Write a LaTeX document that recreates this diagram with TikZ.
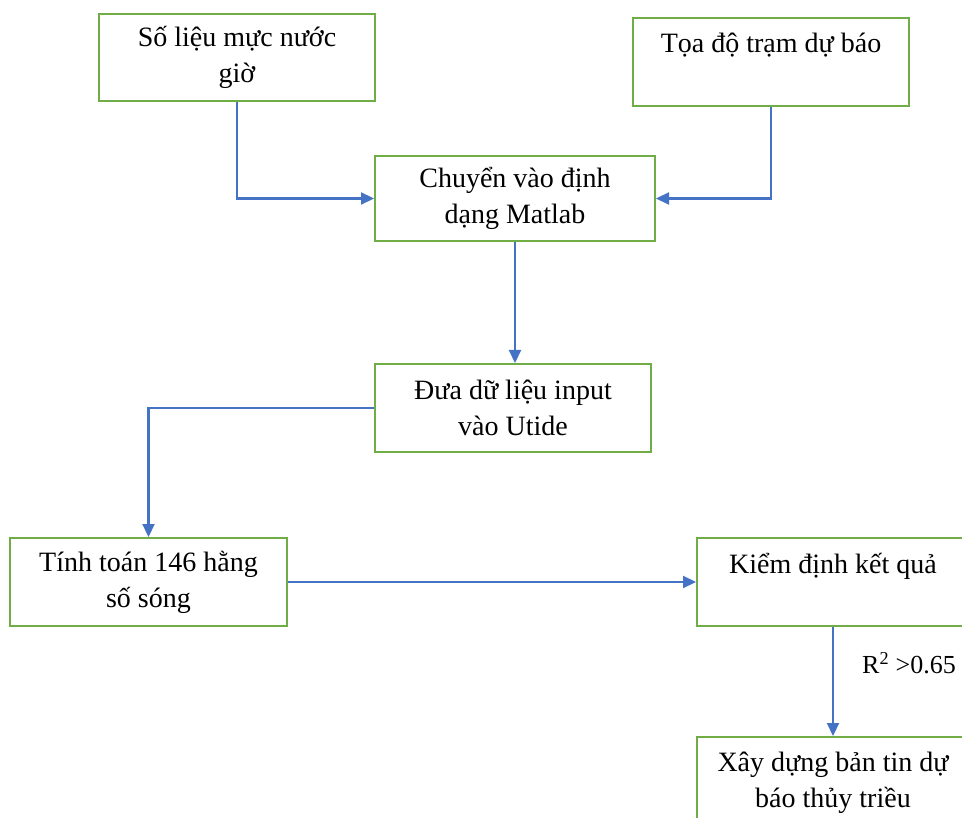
\documentclass[tikz,border=0pt]{standalone}
\usepackage{fontspec}
\setmainfont{Liberation Serif}
\usetikzlibrary{arrows.meta}
\definecolor{boxgreen}{RGB}{112,173,71}
\definecolor{arrblue}{RGB}{68,114,196}
\begin{document}
\begin{tikzpicture}[x=1pt,y=-1pt,
  box/.style={draw=boxgreen, line width=2pt, align=center, inner sep=0pt,
    font=\fontsize{28}{36}\selectfont},
  arr/.style={draw=arrblue, line width=2.2pt, -{Triangle[length=13pt,width=12pt]}},
  lbl/.style={font=\fontsize{26}{34}\selectfont, inner sep=0pt}]
\useasboundingbox (0,0) rectangle (962,818);
\clip (0,0) rectangle (962,818);
\fill[white] (0,0) rectangle (962,818);
\node[box, minimum width=276pt, minimum height=87pt] (b1) at (237,57.5) {Số liệu mực nước\\giờ};
\node[box, minimum width=276pt, minimum height=88pt] (b2) at (771,62) {Tọa độ trạm dự báo\\[2pt]~};
\node[box, minimum width=280pt, minimum height=85pt] (b3) at (515,198.5) {Chuyển vào định\\dạng Matlab};
\node[box, minimum width=276pt, minimum height=88pt] (b4) at (513,408) {Đưa dữ liệu input\\vào Utide};
\node[box, minimum width=277pt, minimum height=88pt] (b5) at (148.5,582) {Tính toán 146 hằng\\số sóng};
\node[box, minimum width=272pt, minimum height=88pt] (b6) at (833,582) {Kiểm định kết quả\\[2pt]~};
\node[box, minimum width=272pt, minimum height=92pt] (b7) at (833,783) {Xây dựng bản tin dự\\báo thủy triều};
\draw[arr] (b1.south) |- (b3.west);
\draw[arr] (b2.south) |- (b3.east);
\draw[arr] (b3.south) -- (b3.south |- b4.north);
\draw[arr] (b4.west) -| (b5.north);
\draw[arr] (b5.east) -- (b6.west);
\draw[arr] (b6.south) -- (b7.north);
\node[lbl, anchor=west] (r2) at (862,663) {R\textsuperscript{2} >0.65};
\end{tikzpicture}
\end{document}
